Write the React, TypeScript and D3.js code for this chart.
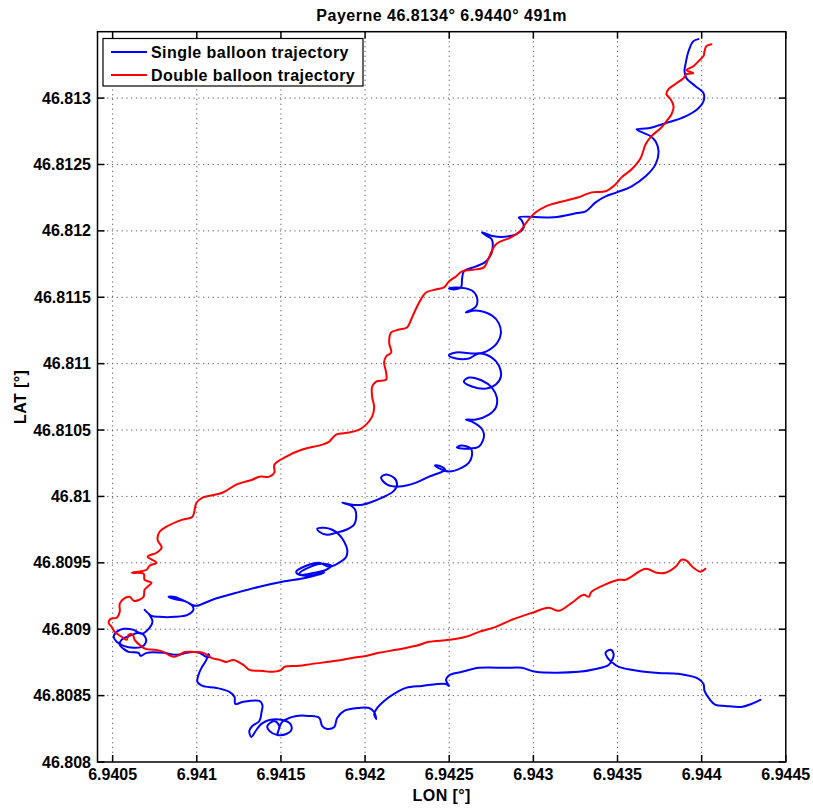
import React from "react";
import * as d3 from "d3";

const chartTitle = "Payerne 46.8134° 6.9440° 491m";
const xLabel = "LON [°]";
const yLabel = "LAT [°]";
const seriesNames = ["Single balloon trajectory", "Double balloon trajectory"];
const seriesColors = ["#0000ff", "#ff0000"];

const xTicks = [6.9405, 6.941, 6.9415, 6.942, 6.9425, 6.943, 6.9435, 6.944, 6.9445];
const xTickLabels = ["6.9405", "6.941", "6.9415", "6.942", "6.9425", "6.943", "6.9435", "6.944", "6.9445"];
const yTicks = [46.808, 46.8085, 46.809, 46.8095, 46.81, 46.8105, 46.811, 46.8115, 46.812, 46.8125, 46.813];
const yTickLabels = ["46.808", "46.8085", "46.809", "46.8095", "46.81", "46.8105", "46.811", "46.8115", "46.812", "46.8125", "46.813"];

const singleLon = [
  6.943981, 6.943951, 6.943922, 6.943904, 6.943898, 6.94391, 6.943963, 6.944011, 6.944011, 6.943981,
  6.943904, 6.943785, 6.943684, 6.943613, 6.943696, 6.943726, 6.943744, 6.943726, 6.943667, 6.943584,
  6.943495, 6.943429, 6.94337, 6.943311, 6.943252, 6.943121, 6.942914, 6.942931, 6.942943, 6.942896,
  6.942854, 6.942765, 6.942694, 6.942718, 6.942753, 6.942753, 6.942718, 6.942659, 6.942587, 6.942576,
  6.94257, 6.942528, 6.942498, 6.94254, 6.942635, 6.942665, 6.942659, 6.942599, 6.942659, 6.942753,
  6.942795, 6.942807, 6.942783, 6.942718, 6.942659, 6.94254, 6.942498, 6.94254, 6.942617, 6.942676,
  6.942753, 6.942795, 6.942807, 6.942777, 6.942718, 6.942635, 6.942587, 6.942617, 6.942694, 6.942753,
  6.942783, 6.942777, 6.942736, 6.942659, 6.942599, 6.942635, 6.942688, 6.942706, 6.9427, 6.942676,
  6.942617, 6.942546, 6.94257, 6.942629, 6.942635, 6.942617, 6.942576, 6.942498, 6.942457, 6.942415,
  6.942439, 6.942475, 6.94238, 6.942303, 6.942202, 6.942131, 6.942095, 6.942119, 6.942172, 6.94219,
  6.942166, 6.942101, 6.942042, 6.941983, 6.941923, 6.941864, 6.941917, 6.941941, 6.941947, 6.941935,
  6.941888, 6.941828, 6.941775, 6.941728, 6.941716, 6.941757, 6.941805, 6.941846, 6.941876, 6.941894,
  6.941888, 6.941846, 6.941787, 6.941728, 6.94165, 6.941591, 6.941609, 6.941698, 6.941769, 6.941799,
  6.941739, 6.941639, 6.941609, 6.941668, 6.941757, 6.94165, 6.941508, 6.941372, 6.941235, 6.941093,
  6.940998, 6.940969, 6.940939, 6.940862, 6.940832, 6.940862, 6.940921, 6.940969, 6.94098, 6.940945,
  6.940868, 6.940779, 6.940731, 6.94069, 6.940719, 6.940737, 6.940719, 6.940672, 6.940625, 6.940565,
  6.940524, 6.940506, 6.940524, 6.940565, 6.940625, 6.940672, 6.940696, 6.940696, 6.94066, 6.940601,
  6.940553, 6.940542, 6.940565, 6.940595, 6.940654, 6.940666, 6.940702, 6.940802, 6.94088, 6.940939,
  6.94098, 6.941016, 6.941057, 6.941075, 6.941069, 6.941057, 6.941028, 6.94101, 6.941004, 6.941034,
  6.941117, 6.941194, 6.941224, 6.941229, 6.941271, 6.941372, 6.94139, 6.941384, 6.941372, 6.94133,
  6.941312, 6.941324, 6.941354, 6.941384, 6.941431, 6.941508, 6.941556, 6.941562, 6.941532, 6.941479,
  6.941431, 6.941419, 6.941461, 6.94149, 6.941479, 6.941508, 6.941591, 6.941668, 6.941728, 6.941745,
  6.941775, 6.941817, 6.941834, 6.941876, 6.941965, 6.942024, 6.942054, 6.942066, 6.942054, 6.942072,
  6.942113, 6.942172, 6.942243, 6.942338, 6.942481, 6.942498, 6.942481, 6.942504, 6.942576, 6.942676,
  6.942836, 6.942931, 6.943014, 6.943269, 6.94337, 6.943447, 6.943471, 6.943477, 6.943459, 6.943429,
  6.943441, 6.943471, 6.943507, 6.943625, 6.943744, 6.943862, 6.943981, 6.944011, 6.944017, 6.944046,
  6.944082, 6.944141, 6.944236, 6.944295, 6.944349,
];

const singleLat = [
  46.813444, 46.813429, 46.813353, 46.813255, 46.813203, 46.81315, 46.81309, 46.813037, 46.812976, 46.812924,
  46.812863, 46.812811, 46.812773, 46.812765, 46.812713, 46.812675, 46.812599, 46.812501, 46.812411, 46.812336,
  46.81229, 46.81226, 46.812215, 46.812147, 46.812132, 46.812102, 46.812102, 46.812079, 46.812026, 46.811974,
  46.811959, 46.811959, 46.811989, 46.811966, 46.811936, 46.811838, 46.81177, 46.811732, 46.811695, 46.811634,
  46.811574, 46.811559, 46.811566, 46.811574, 46.811551, 46.811499, 46.811431, 46.811386, 46.811401, 46.811363,
  46.811303, 46.811227, 46.811152, 46.811091, 46.811076, 46.811084, 46.811061, 46.811039, 46.811039, 46.811076,
  46.811046, 46.810986, 46.810903, 46.810843, 46.810812, 46.810828, 46.810865, 46.810895, 46.810873, 46.81082,
  46.810745, 46.810669, 46.810616, 46.810579, 46.810579, 46.810564, 46.810518, 46.810473, 46.81042, 46.810375,
  46.81036, 46.810368, 46.810383, 46.81036, 46.810307, 46.810255, 46.810217, 46.810187, 46.810202, 46.810232,
  46.810232, 46.810202, 46.810149, 46.810104, 46.810074, 46.810089, 46.810141, 46.810164, 46.810141, 46.810089,
  46.810036, 46.809991, 46.80996, 46.809938, 46.809938, 46.809953, 46.80993, 46.8099, 46.80984, 46.809787,
  46.809749, 46.809727, 46.809712, 46.809734, 46.809757, 46.809764, 46.809749, 46.809712, 46.809659, 46.809599,
  46.809546, 46.809501, 46.80947, 46.809501, 46.809478, 46.809433, 46.80941, 46.809425, 46.809448, 46.809478,
  46.809493, 46.809448, 46.809418, 46.809402, 46.809425, 46.809387, 46.809357, 46.80932, 46.809274, 46.809222,
  46.809176, 46.809184, 46.809206, 46.809244, 46.809244, 46.809229, 46.809214, 46.809184, 46.809146, 46.809108,
  46.809093, 46.809093, 46.809101, 46.809146, 46.809108, 46.809056, 46.80901, 46.808965, 46.808995, 46.809003,
  46.80898, 46.808943, 46.808905, 46.808875, 46.80886, 46.808867, 46.808897, 46.808935, 46.808973, 46.80895,
  46.80892, 46.808882, 46.808852, 46.808829, 46.808822, 46.808799, 46.808822, 46.808822, 46.808807, 46.808822,
  46.808829, 46.808822, 46.808792, 46.808792, 46.808814, 46.808769, 46.808709, 46.808656, 46.808603, 46.808573,
  46.808558, 46.808528, 46.80849, 46.808437, 46.808452, 46.80846, 46.80843, 46.80837, 46.808309, 46.808271,
  46.808234, 46.808189, 46.808241, 46.808287, 46.808317, 46.808317, 46.808287, 46.808241, 46.808211, 46.808204,
  46.808234, 46.808271, 46.808309, 46.808271, 46.808211, 46.808302, 46.808347, 46.808347, 46.808332, 46.808271,
  46.808249, 46.808264, 46.808332, 46.808385, 46.808407, 46.808407, 46.808377, 46.808324, 46.808362, 46.808407,
  46.80846, 46.808513, 46.808558, 46.808573, 46.808588, 46.808573, 46.808618, 46.808656, 46.808679, 46.808709,
  46.808709, 46.808709, 46.808679, 46.808679, 46.808701, 46.808731, 46.808777, 46.808814, 46.808845, 46.808822,
  46.808784, 46.808747, 46.808716, 46.808686, 46.808671, 46.808664, 46.808626, 46.808588, 46.808535, 46.808475,
  46.80843, 46.808422, 46.808415, 46.808437, 46.808468,
];

const doubleLon = [
  6.944058, 6.944028, 6.944017, 6.944011, 6.943993, 6.943951, 6.94391, 6.943951, 6.94391, 6.943892,
  6.943851, 6.943803, 6.943791, 6.943815, 6.943833, 6.943821, 6.943791, 6.943756, 6.943702, 6.943667,
  6.943637, 6.943584, 6.943524, 6.943489, 6.943429, 6.943346, 6.943269, 6.943151, 6.943074, 6.943014,
  6.942973, 6.942914, 6.942866, 6.942777, 6.942736, 6.942706, 6.942659, 6.942576, 6.94254, 6.942498,
  6.942469, 6.942421, 6.942362, 6.942332, 6.942309, 6.942279, 6.942249, 6.942202, 6.942155, 6.942143,
  6.942155, 6.942125, 6.942113, 6.942125, 6.942125, 6.942066, 6.942042, 6.942042, 6.942054, 6.942042,
  6.942006, 6.941965, 6.941905, 6.941828, 6.941787, 6.941745, 6.941627, 6.941532, 6.941461, 6.941461,
  6.941431, 6.941372, 6.94133, 6.941235, 6.941152, 6.941034, 6.940998, 6.940974, 6.940915, 6.94082,
  6.940779, 6.940767, 6.940791, 6.940761, 6.940708, 6.940761, 6.940719, 6.940702, 6.940613, 6.940684,
  6.94069, 6.940731, 6.940714, 6.94069, 6.940684, 6.94066, 6.940625, 6.940601, 6.940565, 6.940542,
  6.940542, 6.940524, 6.940488, 6.940476, 6.940494, 6.940512, 6.940553, 6.940583, 6.940595, 6.940619,
  6.940631, 6.94066, 6.940696, 6.940749, 6.940802, 6.940832, 6.940868, 6.940897, 6.940927, 6.94098,
  6.94104, 6.941087, 6.941135, 6.941176, 6.941218, 6.941277, 6.941312, 6.941395, 6.941431, 6.941502,
  6.94152, 6.941609, 6.941686, 6.941828, 6.941923, 6.942006, 6.942083, 6.942184, 6.942303, 6.94238,
  6.942498, 6.942599, 6.942676, 6.942777, 6.942872, 6.942991, 6.943091, 6.943151, 6.943228, 6.943299,
  6.943329, 6.943346, 6.943507, 6.943548, 6.943667, 6.943732, 6.943785, 6.943845, 6.94388, 6.94391,
  6.943951, 6.943993, 6.944022,
];

const doubleLat = [
  46.813406, 46.813391, 46.813353, 46.813316, 46.813293, 46.81324, 46.81321, 46.813188, 46.81318, 46.81315,
  46.813112, 46.813067, 46.813029, 46.812992, 46.812939, 46.812878, 46.812826, 46.812773, 46.812713, 46.812652,
  46.812547, 46.812464, 46.812403, 46.812351, 46.812298, 46.81229, 46.812253, 46.812215, 46.812185, 46.81214,
  46.812087, 46.811989, 46.811951, 46.811898, 46.8118, 46.811725, 46.81171, 46.811695, 46.811657, 46.811619,
  46.811574, 46.811559, 46.811536, 46.811484, 46.811431, 46.811348, 46.811272, 46.811257, 46.811235, 46.811159,
  46.811084, 46.811054, 46.811009, 46.810933, 46.81088, 46.810865, 46.810828, 46.810752, 46.810669, 46.810601,
  46.810541, 46.810503, 46.810481, 46.810466, 46.810413, 46.81039, 46.810353, 46.8103, 46.810239, 46.810179,
  46.810149, 46.810149, 46.810126, 46.810089, 46.810028, 46.809991, 46.809953, 46.809847, 46.809825, 46.809772,
  46.809734, 46.809674, 46.809614, 46.809576, 46.809546, 46.809501, 46.809478, 46.809448, 46.809425, 46.809418,
  46.809372, 46.80935, 46.809327, 46.809297, 46.809244, 46.809222, 46.809214, 46.809244, 46.809229, 46.809191,
  46.809131, 46.809086, 46.809078, 46.809048, 46.809018, 46.80898, 46.808943, 46.80892, 46.808958, 46.808958,
  46.80892, 46.808882, 46.808852, 46.808845, 46.808829, 46.808807, 46.808792, 46.808807, 46.808829, 46.808829,
  46.808822, 46.808784, 46.808769, 46.808754, 46.808769, 46.808731, 46.808694, 46.808686, 46.808679, 46.808694,
  46.808716, 46.808724, 46.808739, 46.808762, 46.808784, 46.808799, 46.808822, 46.808845, 46.808875, 46.808905,
  46.80892, 46.808943, 46.80898, 46.809018, 46.809071, 46.809123, 46.809161, 46.809139, 46.809199, 46.809259,
  46.809244, 46.809282, 46.809372, 46.809372, 46.809455, 46.809425, 46.809425, 46.80947, 46.809523, 46.809516,
  46.809463, 46.809433, 46.809455,
];

const W = 813;
const H = 810;
const plot = { left: 97.5, right: 785.8, top: 31.7, bottom: 762 };
const FONT = "'Liberation Sans', Arial, Helvetica, sans-serif";

export default function App() {
  const x = d3.scaleLinear().domain([6.94041, 6.9445]).range([plot.left, plot.right]);
  const y = d3.scaleLinear().domain([46.808, 46.8135]).range([plot.bottom, plot.top]);

  const series = [
    singleLon.map((lon, i) => [lon, singleLat[i]] as [number, number]),
    doubleLon.map((lon, i) => [lon, doubleLat[i]] as [number, number]),
  ];
  const line = d3
    .line<[number, number]>()
    .x((d) => x(d[0]))
    .y((d) => y(d[1]))
    .curve(d3.curveCatmullRom.alpha(0.5));

  const tickLen = 7;
  const cx = (plot.left + plot.right) / 2;

  return (
    <svg
      width={W}
      height={H}
      style={{ position: "absolute", left: 0, top: 0, background: "#fff" }}
      fontFamily={FONT}
    >
      <rect x={0} y={0} width={W} height={H} fill="#fff" />
      <rect
        x={plot.left}
        y={plot.top}
        width={plot.right - plot.left}
        height={plot.bottom - plot.top}
        fill="#fff"
      />
      {/* grid */}
      {xTicks.slice(0, -1).map((t, i) => (
        <line
          key={"gx" + i}
          x1={x(t)}
          x2={x(t)}
          y1={plot.top}
          y2={plot.bottom}
          stroke="#555"
          strokeWidth={1}
          strokeDasharray="1.2,3.6"
        />
      ))}
      {yTicks.slice(1).map((t, i) => (
        <line
          key={"gy" + i}
          x1={plot.left}
          x2={plot.right}
          y1={y(t)}
          y2={y(t)}
          stroke="#555"
          strokeWidth={1}
          strokeDasharray="1.2,3.6"
        />
      ))}
      {/* series */}
      {series.map((s, i) => (
        <path
          key={"s" + i}
          d={line(s) || ""}
          fill="none"
          stroke={seriesColors[i]}
          strokeWidth={2}
          strokeLinejoin="round"
          strokeLinecap="round"
        />
      ))}
      {/* frame */}
      <rect
        x={plot.left}
        y={plot.top}
        width={plot.right - plot.left}
        height={plot.bottom - plot.top}
        fill="none"
        stroke="#000"
        strokeWidth={1.5}
      />
      {/* ticks */}
      {xTicks.map((t, i) => (
        <g key={"tx" + i}>
          <line x1={x(t)} x2={x(t)} y1={plot.bottom} y2={plot.bottom - tickLen} stroke="#000" strokeWidth={1.5} />
          <line x1={x(t)} x2={x(t)} y1={plot.top} y2={plot.top + tickLen} stroke="#000" strokeWidth={1.5} />
          <text
            x={x(t)}
            y={780}
            textAnchor="middle"
            fontSize={16}
            fontWeight="bold"
            fill="#000"
          >
            {xTickLabels[i]}
          </text>
        </g>
      ))}
      {yTicks.map((t, i) => (
        <g key={"ty" + i}>
          <line x1={plot.left} x2={plot.left + tickLen} y1={y(t)} y2={y(t)} stroke="#000" strokeWidth={1.5} />
          <line x1={plot.right} x2={plot.right - tickLen} y1={y(t)} y2={y(t)} stroke="#000" strokeWidth={1.5} />
          <text
            x={91}
            y={y(t) + 5.5}
            textAnchor="end"
            fontSize={16}
            fontWeight="bold"
            fill="#000"
          >
            {yTickLabels[i]}
          </text>
        </g>
      ))}
      {/* title & labels */}
      <text x={cx} y={21} textAnchor="middle" fontSize={16} fontWeight="bold" letterSpacing={0.5} fill="#000">
        {chartTitle}
      </text>
      <text x={cx} y={801} textAnchor="middle" fontSize={16} fontWeight="bold" letterSpacing={0.4} fill="#000">
        {xLabel}
      </text>
      <text
        transform={`translate(26, ${(plot.top + plot.bottom) / 2}) rotate(-90)`}
        textAnchor="middle"
        fontSize={16}
        fontWeight="bold"
        letterSpacing={0.4}
        fill="#000"
      >
        {yLabel}
      </text>
      {/* legend */}
      <g>
        <rect x={103} y={38.5} width={260} height={47.5} fill="#fff" stroke="#000" strokeWidth={1.2} />
        {seriesNames.map((name, i) => (
          <g key={"lg" + i}>
            <line
              x1={111}
              x2={147}
              y1={52 + i * 23}
              y2={52 + i * 23}
              stroke={seriesColors[i]}
              strokeWidth={2}
            />
            <text x={151} y={58 + i * 23} fontSize={16} fontWeight="bold" letterSpacing={0.45} fill="#000">
              {name}
            </text>
          </g>
        ))}
      </g>
    </svg>
  );
}
